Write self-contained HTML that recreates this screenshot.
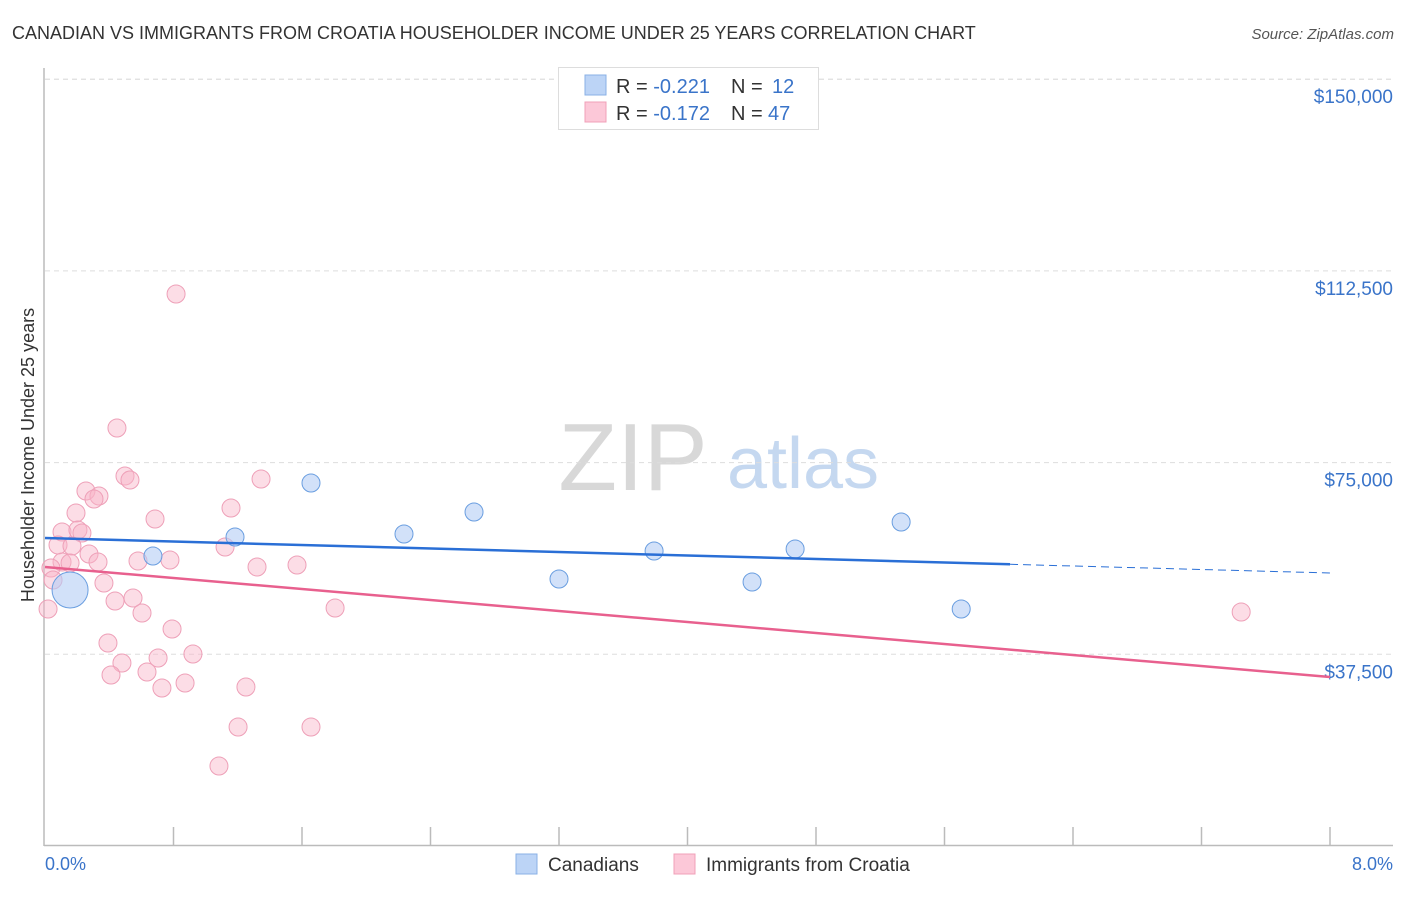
<!DOCTYPE html>
<html><head><meta charset="utf-8"><style>
body{margin:0;background:#fff;font-family:"Liberation Sans",sans-serif}
svg text{font-family:"Liberation Sans",sans-serif}
</style></head><body>
<svg id="chart" width="1406" height="892" viewBox="0 0 1406 892">
<text x="12" y="39" font-size="18" fill="#333">CANADIAN VS IMMIGRANTS FROM CROATIA HOUSEHOLDER INCOME UNDER 25 YEARS CORRELATION CHART</text>
<text x="1394" y="39" font-size="15" fill="#555" font-style="italic" text-anchor="end">Source: ZipAtlas.com</text>
<g><text x="633" y="490" font-size="96" fill="#d8d8d8" font-family="Liberation Serif" text-anchor="middle">ZIP</text><text x="803" y="488" font-size="72" fill="#c5d8f0" text-anchor="middle">atlas</text></g>
<g id="grid"></g>
<line x1="44" y1="68" x2="44" y2="846" stroke="#bbb" stroke-width="1.5"/>
<line x1="44" y1="845.5" x2="1393" y2="845.5" stroke="#bbb" stroke-width="1.5"/>
<g id="xticks"></g>
<text transform="translate(34,455) rotate(-90)" font-size="18" fill="#333" text-anchor="middle">Householder Income Under 25 years</text>
<text x="45" y="870" font-size="18" fill="#3a74c9">0.0%</text>
<text x="1393" y="870" font-size="18" fill="#3a74c9" text-anchor="end">8.0%</text>
<g id="marks"></g>
<g>
<rect x="558.5" y="67.5" width="260" height="62" fill="#fff" stroke="#ddd"/>
<rect x="585" y="75" width="21" height="20" fill="#bcd4f6" stroke="#8ab0e6"/>
<rect x="585" y="102" width="21" height="20" fill="#fcc8d8" stroke="#f0a0b8"/>
<text x="616" y="93" font-size="20" fill="#333">R = <tspan fill="#3a74c9">-0.221</tspan><tspan x="731">N = </tspan><tspan x="772" fill="#3a74c9">12</tspan></text>
<text x="616" y="120" font-size="20" fill="#333">R = <tspan fill="#3a74c9">-0.172</tspan><tspan x="731">N = </tspan><tspan x="768" fill="#3a74c9">47</tspan></text>
</g>
<g>
<rect x="516" y="854" width="21" height="20" fill="#bcd4f6" stroke="#8ab0e6"/>
<text x="548" y="871" font-size="19" fill="#333">Canadians</text>
<rect x="674" y="854" width="21" height="20" fill="#fcc8d8" stroke="#f0a0b8"/>
<text x="706" y="871" font-size="19" fill="#333">Immigrants from Croatia</text>
</g>
</svg>
<script>
const yTicks=[37500,75000,112500,150000];
const yTickLabels=["$37,500","$75,000","$112,500","$150,000"];
const pinkX=[0.816,0.448,0.498,0.529,1.345,0.255,0.336,0.305,0.685,0.193,1.158,0.106,0.205,0.230,0.081,0.168,1.121,0.274,0.106,0.156,0.330,0.579,0.778,1.320,1.569,0.037,0.050,0.367,0.436,0.548,0.604,1.806,0.019,0.791,0.392,0.921,0.479,0.704,0.635,0.411,0.872,0.728,1.251,1.202,1.656,1.083,7.447];
const pinkY=[107982,81769,72379,71597,71793,69445,68467,67880,63968,65141,66120,61425,61816,61229,58882,58686,58490,57121,55556,55360,55556,55752,55947,54578,54969,54382,52035,51448,47927,48514,45580,46558,46362,42450,39711,37559,35799,36777,34038,33451,31886,30908,31104,23279,23279,15650,45775];
const blueX=[0.156,0.672,1.183,1.656,2.235,2.671,3.200,3.792,4.402,4.670,5.330,5.704];
const blueY=[50079,56730,60447,71010,61033,65337,52230,57708,51644,58099,63381,46362];
const blueR=[18,9,9,9,9,9,9,9,9,9,9,9];
const blueTrend=[60251,53404];
const pinkTrend=[54578,33060];
const blueSolidEnd=6.008;
const NS="http://www.w3.org/2000/svg";
function sx(v){return 45+v/8*1285;}
function sy(v){return 846-v/37500*191.7;}
function mk(tag,attrs,parent){const e=document.createElementNS(NS,tag);for(const k in attrs)e.setAttribute(k,attrs[k]);document.getElementById(parent).appendChild(e);return e;}
yTicks.forEach((t,i)=>{
 const l=mk('line',{x1:45,x2:1393,y1:sy(t),y2:sy(t),stroke:'#ddd','stroke-dasharray':'5,4'},'grid');
 
 
 const tx=mk('text',{x:1393,y:sy(t)+24,'font-size':19,fill:'#3a74c9','text-anchor':'end'},'grid');
 tx.textContent=yTickLabels[i];
 
 
});
mk('line',{x1:45,x2:1393,y1:sy(150000),y2:sy(150000),stroke:'#ddd','stroke-dasharray':'5,4'},'grid');
for(let k=1;k<=10;k++){
 const l=mk('line',{x1:sx(k*0.8),x2:sx(k*0.8),y1:827,y2:845,stroke:'#bbb','stroke-width':1.5},'xticks');
 
 
}
pinkX.forEach((x,i)=>{
 const c=mk('circle',{cx:sx(x),cy:sy(pinkY[i]),r:9,fill:'rgba(248,180,200,0.45)',stroke:'#eea0b8','stroke-width':1},'marks');
 
 
});
blueX.forEach((x,i)=>{
 const c=mk('circle',{cx:sx(x),cy:sy(blueY[i]),r:blueR[i],fill:'rgba(180,205,245,0.6)',stroke:'#6a9ee0','stroke-width':1},'marks');
 
 
});
const bEnd=blueTrend[0]+(blueTrend[1]-blueTrend[0])*blueSolidEnd/8;
let t=mk('line',{x1:sx(0),y1:sy(blueTrend[0]),x2:sx(blueSolidEnd),y2:sy(bEnd),stroke:'#2a6fd6','stroke-width':2.5},'marks');


t=mk('line',{x1:sx(blueSolidEnd),y1:sy(bEnd),x2:sx(8),y2:sy(blueTrend[1]),stroke:'#2a6fd6','stroke-width':1,'stroke-dasharray':'8,5'},'marks');


t=mk('line',{x1:sx(0),y1:sy(pinkTrend[0]),x2:sx(8),y2:sy(pinkTrend[1]),stroke:'#e8608e','stroke-width':2.5},'marks');


</script>
</body></html>
